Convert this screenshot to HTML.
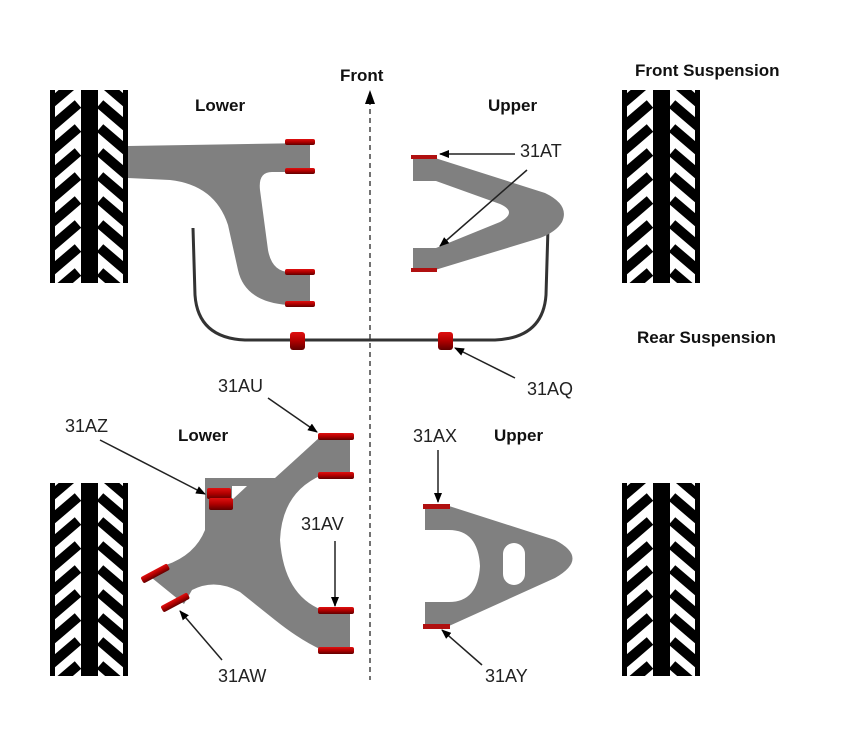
<!DOCTYPE html>
<html><head><style>body{margin:0;background:#fff}svg{display:block}</style></head><body>
<svg width="847" height="740" viewBox="0 0 847 740" xmlns="http://www.w3.org/2000/svg" font-family="Liberation Sans, sans-serif">
<defs>
<linearGradient id="rd" x1="0" y1="0" x2="0" y2="1"><stop offset="0" stop-color="#e01010"/><stop offset="0.5" stop-color="#b00000"/><stop offset="1" stop-color="#600000"/></linearGradient>
<marker id="ar" markerWidth="10" markerHeight="8" refX="9" refY="4" orient="auto" markerUnits="userSpaceOnUse"><path d="M0,0 L10,4 L0,8 Z" fill="#000"/></marker>
<clipPath id="tc"><rect x="0" y="0" width="78" height="193"/></clipPath>
<g id="tire">
<g clip-path="url(#tc)" stroke="#000" stroke-width="10">
<g id="lft"><line x1="0" y1="14" x2="28" y2="-10"/><line x1="0" y1="38" x2="28" y2="14"/><line x1="0" y1="62" x2="28" y2="38"/><line x1="0" y1="86" x2="28" y2="62"/><line x1="0" y1="110" x2="28" y2="86"/><line x1="0" y1="134" x2="28" y2="110"/><line x1="0" y1="158" x2="28" y2="134"/><line x1="0" y1="182" x2="28" y2="158"/><line x1="0" y1="206" x2="28" y2="182"/></g>
<g transform="translate(78,0) scale(-1,1)"><use href="#lft"/></g>
</g>
<rect x="0" y="0" width="5" height="193" fill="#000"/><rect x="73" y="0" width="5" height="193" fill="#000"/>
<rect x="31" y="0" width="17" height="193" fill="#000"/>
</g>
</defs>
<use href="#tire" x="50" y="90"/><use href="#tire" x="622" y="90"/>
<use href="#tire" x="50" y="483"/><use href="#tire" x="622" y="483"/>

<g font-weight="bold" font-size="17" fill="#111">
<text x="635" y="76">Front Suspension</text>
<text x="637" y="343">Rear Suspension</text>
<text x="195" y="111">Lower</text><text x="488" y="111">Upper</text>
<text x="178" y="441">Lower</text><text x="494" y="441">Upper</text>
<text x="340" y="81">Front</text>
</g>
<line x1="370" y1="100" x2="370" y2="680" stroke="#444" stroke-width="1.5" stroke-dasharray="5,4"/>
<path d="M365,104 L370,90 L375,104 Z" fill="#000"/>

<path d="M128,146 L310,143 L310,172 L272,172 Q258,172 260,190 L268,250 Q272,272 290,272 L310,272 L310,305 L288,305 Q245,302 238,270 L228,225 Q215,185 170,180 L128,178 Z" fill="#808080"/>
<rect x="285" y="139" width="30" height="6" rx="2" fill="url(#rd)"/><rect x="285" y="168" width="30" height="6" rx="2" fill="url(#rd)"/>
<rect x="285" y="269" width="30" height="6" rx="2" fill="url(#rd)"/><rect x="285" y="301" width="30" height="6" rx="2" fill="url(#rd)"/>
<path d="M193,228 L195,295 Q198,338 245,340 L495,340 Q543,338 546,295 L548,228" fill="none" stroke="#333" stroke-width="3"/>
<rect x="290" y="332" width="15" height="18" rx="3" fill="url(#rd)"/><rect x="438" y="332" width="15" height="18" rx="3" fill="url(#rd)"/>
<path d="M413,158 L435,158 L545,193 Q570,205 562,222 Q556,232 540,238 L435,270 L413,270 L413,248 L436,248 L500,222 Q518,212 500,204 L436,181 L413,181 Z" fill="#808080"/>
<rect x="411" y="155" width="26" height="4" fill="#b01010"/><rect x="411" y="268" width="26" height="4" fill="#b01010"/>

<path d="M320,437 L350,437 L350,475 L322,475 Q282,492 280,540 Q284,595 322,610 L350,610 L350,650 L322,650 Q300,640 275,620 L240,592 Q215,578 192,590 L184,604 L152,578 L166,565 Q195,555 205,530 L205,478 L275,478 Q295,460 320,437 Z" fill="#808080"/>
<path d="M232,486 L247,486 L232,500 Z" fill="#fff"/>
<rect x="207" y="488" width="24" height="11" rx="2" fill="url(#rd)"/><rect x="209" y="498" width="24" height="12" rx="2" fill="url(#rd)"/>
<rect x="318" y="433" width="36" height="7" rx="2" fill="url(#rd)"/><rect x="318" y="472" width="36" height="7" rx="2" fill="url(#rd)"/>
<rect x="318" y="607" width="36" height="7" rx="2" fill="url(#rd)"/><rect x="318" y="647" width="36" height="7" rx="2" fill="url(#rd)"/>
<rect x="140" y="570" width="30" height="7" rx="2" fill="url(#rd)" transform="rotate(-28 155 573)"/>
<rect x="160" y="599" width="30" height="7" rx="2" fill="url(#rd)" transform="rotate(-28 175 602)"/>
<path d="M425,506 L449,506 L555,540 Q590,558 555,578 L449,626 L425,626 L425,602 L449,602 Q478,602 480,566 Q478,530 449,530 L425,530 Z" fill="#808080"/>
<rect x="503" y="543" width="22" height="42" rx="11" fill="#fff"/>
<rect x="423" y="504" width="27" height="5" fill="#b01010"/><rect x="423" y="624" width="27" height="5" fill="#b01010"/>

<g font-size="18" fill="#222">
<text x="520" y="157">31AT</text><text x="527" y="395">31AQ</text>
<text x="218" y="392">31AU</text><text x="65" y="432">31AZ</text>
<text x="301" y="530">31AV</text><text x="218" y="682">31AW</text>
<text x="413" y="442">31AX</text><text x="485" y="682">31AY</text>
</g>
<g stroke="#222" stroke-width="1.5" marker-end="url(#ar)">
<line x1="515" y1="154" x2="440" y2="154"/>
<line x1="527" y1="170" x2="440" y2="246"/>
<line x1="515" y1="378" x2="455" y2="348"/>
<line x1="268" y1="398" x2="317" y2="432"/>
<line x1="100" y1="440" x2="205" y2="494"/>
<line x1="335" y1="541" x2="335" y2="606"/>
<line x1="222" y1="660" x2="180" y2="611"/>
<line x1="438" y1="450" x2="438" y2="502"/>
<line x1="482" y1="665" x2="442" y2="630"/>
</g>
</svg>
</body></html>
